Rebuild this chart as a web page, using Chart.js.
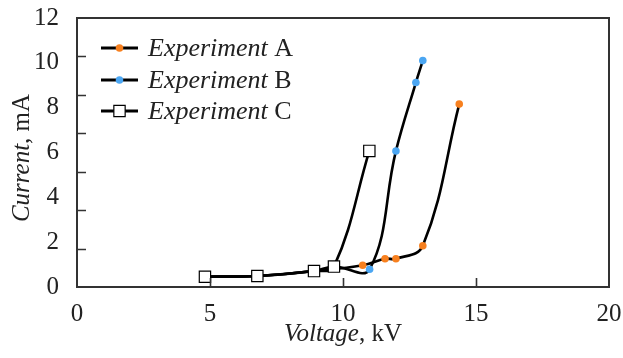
<!DOCTYPE html>
<html>
<head>
<meta charset="utf-8">
<script src="https://cdn.jsdelivr.net/npm/chart.js@4.4.1/dist/chart.umd.min.js"></script>
<style>
html,body{margin:0;padding:0;background:#fff;}
#wrap{width:623px;height:358px;position:relative;}
</style>
</head>
<body>
<div id="wrap"><canvas id="c" width="623" height="358"></canvas></div>
<script>
// ---- data ----
const voltageA = [4.8, 6.8, 8.9, 10.74, 11.58, 11.99, 13.0, 14.37];
const currentA = [0.46, 0.49, 0.71, 0.97, 1.26, 1.26, 1.84, 8.16];
const voltageB = [4.8, 6.8, 8.9, 9.66, 11.0, 11.99, 12.74, 13.0];
const currentB = [0.46, 0.49, 0.71, 0.91, 0.79, 6.07, 9.12, 10.1];
const voltageC = [4.81, 6.78, 8.91, 9.66, 10.99];
const currentC = [0.46, 0.49, 0.71, 0.91, 6.07];
const seriesNames = ['A', 'B', 'C'];
const xTickValues = [0, 5, 10, 15, 20];
const yTickValues = [0, 2, 4, 6, 8, 10, 12];
const yTickMarkCount = 7; // inner tick marks divide the y axis into 7 parts
const xTitle = ['Voltage', ', kV'];
const yTitle = ['Current', ', mA'];
const legendWord = 'Experiment';

const pts = (xs, ys) => xs.map((x, i) => ({x: x, y: ys[i]}));
const INK = '#222';
const SERIF = '"Liberation Serif", "DejaVu Serif", serif';
const ORANGE = '#f7801f';
const BLUE = '#4ba6f2';

function richText(ctx, parts, x, y, size, align) {
  let widths = parts.map(p => { ctx.font = (p[1] ? 'italic ' : '') + size + 'px ' + SERIF; return ctx.measureText(p[0]).width; });
  let total = widths.reduce((a, b) => a + b, 0);
  let cx = align === 'center' ? x - total / 2 : x;
  ctx.textAlign = 'left';
  parts.forEach((p, i) => {
    ctx.font = (p[1] ? 'italic ' : '') + size + 'px ' + SERIF;
    ctx.fillText(p[0], cx, y);
    cx += widths[i];
  });
}

const decor = {
  id: 'decor',
  afterDraw(chart) {
    const ctx = chart.ctx, a = chart.chartArea;
    const xs = chart.scales.x, ys = chart.scales.y;
    ctx.save();
    ctx.strokeStyle = '#333';
    ctx.lineWidth = 2;
    ctx.strokeRect(a.left, a.top, a.right - a.left, a.bottom - a.top);
    ctx.lineWidth = 1.6;
    ctx.beginPath();
    for (let k = 1; k < yTickMarkCount; k++) {
      const py = Math.round(ys.getPixelForValue(ys.max * k / yTickMarkCount)) + 0.5;
      ctx.moveTo(a.left, py); ctx.lineTo(a.left + 9, py);
    }
    xTickValues.slice(1, -1).forEach(v => {
      const px = Math.round(xs.getPixelForValue(v)) + 0.5;
      ctx.moveTo(px, a.bottom); ctx.lineTo(px, a.bottom - 9);
    });
    ctx.stroke();
    ctx.fillStyle = INK;
    ctx.textBaseline = 'alphabetic';
    richText(ctx, [[xTitle[0], true], [xTitle[1], false]], (a.left + a.right) / 2, 341, 25, 'center');
    ctx.save();
    ctx.translate(29, 158);
    ctx.rotate(-Math.PI / 2);
    richText(ctx, [[yTitle[0], true], [yTitle[1], false]], 0, 0, 25, 'center');
    ctx.restore();
    const rows = [48, 80, 111];
    chart.data.datasets.forEach((ds, i) => {
      const y = rows[i];
      ctx.strokeStyle = '#000';
      ctx.lineWidth = 3;
      ctx.beginPath(); ctx.moveTo(101, y); ctx.lineTo(138, y); ctx.stroke();
      ctx.fillStyle = ds.pointBackgroundColor;
      ctx.strokeStyle = ds.pointBorderColor;
      ctx.lineWidth = ds.pointBorderWidth;
      ctx.beginPath();
      if (ds.pointStyle === 'rect') {
        const s = ds.pointRadius * Math.SQRT1_2;
        ctx.rect(119.5 - s, y - s, 2 * s, 2 * s);
        ctx.fill(); ctx.stroke();
      } else {
        ctx.arc(119.5, y, ds.pointRadius, 0, Math.PI * 2);
        ctx.fill();
      }
      ctx.fillStyle = INK;
      ctx.textBaseline = 'middle';
      richText(ctx, [[legendWord, true], [' ' + seriesNames[i], false]], 148, y + 1, 26, 'left');
    });
    ctx.restore();
  }
};

function ds(label, data, color, style, radius, order) {
  return {
    label: label, data: data,
    borderColor: '#000', borderWidth: 2.6, tension: 0.4,
    pointStyle: style, pointRadius: radius, pointHoverRadius: radius,
    pointBackgroundColor: color,
    pointBorderColor: style === 'rect' ? '#000' : color,
    pointBorderWidth: style === 'rect' ? 1.2 : 0,
    order: order, fill: false
  };
}

new Chart(document.getElementById('c'), {
  type: 'line',
  data: {
    datasets: [
      ds('Experiment ' + seriesNames[0], pts(voltageA, currentA), ORANGE, 'circle', 3.8, 3),
      ds('Experiment ' + seriesNames[1], pts(voltageB, currentB), BLUE, 'circle', 3.8, 2),
      ds('Experiment ' + seriesNames[2], pts(voltageC, currentC), '#fff', 'rect', 8, 1)
    ]
  },
  options: {
    responsive: false,
    animation: false,
    events: [],
    layout: {padding: {top: 18, right: 14, left: 0, bottom: 0}},
    plugins: {legend: {display: false}, tooltip: {enabled: false}},
    scales: {
      x: {
        type: 'linear', min: 0, max: 20,
        afterBuildTicks: s => { s.ticks = xTickValues.map(v => ({value: v})); },
        afterFit: s => { s.height = 71; s.paddingLeft = 0; s.paddingRight = 0; },
        grid: {display: false},
        border: {display: false},
        ticks: {color: INK, padding: 4, font: {family: SERIF, size: 25}, maxRotation: 0}
      },
      y: {
        type: 'linear', min: 0, max: 12,
        afterBuildTicks: s => { s.ticks = yTickValues.map(v => ({value: v})); },
        afterFit: s => { s.width = 77; s.paddingTop = 0; s.paddingBottom = 0; },
        grid: {display: false},
        border: {display: false},
        ticks: {color: INK, padding: 10, font: {family: SERIF, size: 25}}
      }
    }
  },
  plugins: [decor]
});
</script>
</body>
</html>
